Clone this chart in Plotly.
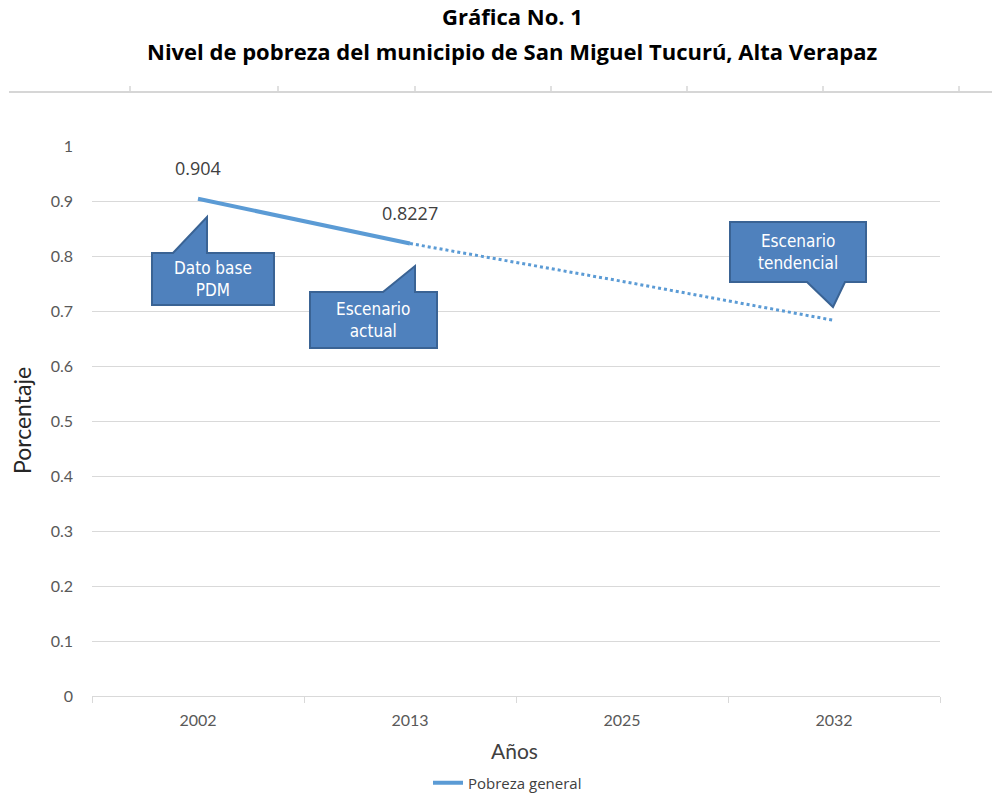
import plotly.graph_objects as go

# ---- data ----
years = ["2002", "2013", "2025", "2032"]
actual = [0.904, 0.8227, None, None]
trend = [None, 0.8227, 0.754, 0.683]
label_years = ["2002", "2013"]
label_values = [0.904, 0.8227]
label_text = ["0.904", "0.8227"]
y_ticks = [0, 0.1, 0.2, 0.3, 0.4, 0.5, 0.6, 0.7, 0.8, 0.9, 1]
y_tick_text = ["0", "0.1", "0.2", "0.3", "0.4", "0.5", "0.6", "0.7", "0.8", "0.9", "1"]

W, H = 992, 812
L, R, T, B = 92, 52, 146, 116
PW, PH = W - L - R, H - T - B

def px(x, y):
    return (x - L) / PW, (H - B - y) / PH

fig = go.Figure()
fig.add_trace(go.Scatter(
    x=years, y=trend, mode="lines", showlegend=False,
    line=dict(color="#5b9bd5", width=3, dash="dot"), hoverinfo="skip"))
fig.add_trace(go.Scatter(
    x=years, y=actual, mode="lines", name="Pobreza general",
    line=dict(color="#5b9bd5", width=4)))

shapes = []
annotations = []
# data labels (category index positions)
for yr, v, t in zip(label_years, label_values, label_text):
    annotations.append(dict(x=years.index(yr), y=v, xref="x", yref="y", text=t, showarrow=False,
                            yshift=31, xanchor="center", yanchor="middle",
                            font=dict(family="Open Sans, sans-serif", size=18, color="#404040")))

# callouts (box + pointer) as polygons in pixel-space converted to paper
callouts = [
    ([(152, 253), (173, 253), (207, 217), (207, 253), (274, 253), (274, 305), (152, 305)],
     "Dato base<br>PDM", (213, 279)),
    ([(310, 292), (383, 292), (415, 266), (415, 292), (437, 292), (437, 348), (310, 348)],
     "Escenario<br>actual", (373, 320)),
    ([(730, 222), (866, 222), (866, 282), (845, 282), (833, 307), (807, 282), (730, 282)],
     "Escenario<br>tendencial", (798, 252)),
]
for pts, txt, (cx, cy) in callouts:
    path = ""
    for i, (x, y) in enumerate(pts):
        xp, yp = px(x, y)
        path += ("M" if i == 0 else "L") + f"{xp:.5f},{yp:.5f} "
    path += "Z"
    shapes.append(dict(type="path", path=path, xref="paper", yref="paper",
                       fillcolor="#4f81bd", line=dict(color="#3a6394", width=2), layer="above"))
    ax, ay = px(cx, cy)
    annotations.append(dict(x=ax, y=ay, xref="paper", yref="paper", text=txt, showarrow=False,
                            font=dict(family="Liberation Sans Narrow, DejaVu Sans Condensed, Liberation Sans, sans-serif",
                                      size=17, color="white"),
                            align="center", xanchor="center", yanchor="middle"))

# top decorative border line with ticks
x0, y0 = px(9, 92)
x1, _ = px(992, 92)
shapes.append(dict(type="line", xref="paper", yref="paper", x0=x0, x1=x1, y0=y0, y1=y0,
                   line=dict(color="#d6d6d6", width=2)))
for tx in [130, 278, 415, 551, 687, 823, 959]:
    a, b = px(tx, 92)
    _, c = px(tx, 86)
    shapes.append(dict(type="line", xref="paper", yref="paper", x0=a, x1=a, y0=b, y1=c,
                       line=dict(color="#d6d6d6", width=1.5)))

# titles
for txt, y in [("Gráfica No. 1", 16), ("Nivel de pobreza del municipio de San Miguel Tucurú, Alta Verapaz", 51)]:
    a, b = px(512, y)
    annotations.append(dict(x=a, y=b, xref="paper", yref="paper", text=f"<b>{txt}</b>",
                            showarrow=False, xanchor="center", yanchor="middle",
                            font=dict(family="Open Sans, sans-serif", size=22, color="#000000")))
# axis titles
a, b = px(514, 750)
annotations.append(dict(x=a, y=b, xref="paper", yref="paper", text="Años", showarrow=False,
                        xanchor="center", yanchor="middle",
                        font=dict(family="Lato, sans-serif", size=21, color="#404040")))
a, b = px(22, 421)
annotations.append(dict(x=a, y=b, xref="paper", yref="paper", text="Porcentaje", showarrow=False,
                        textangle=-90, xanchor="center", yanchor="middle",
                        font=dict(family="Lato, sans-serif", size=23, color="#262626")))

lx, ly = px(428, 783)
fig.update_layout(
    width=W, height=H, margin=dict(l=L, r=R, t=T, b=B),
    plot_bgcolor="white", paper_bgcolor="white",
    shapes=shapes, annotations=annotations,
    showlegend=True,
    legend=dict(orientation="h", x=lx, y=ly, xanchor="left", yanchor="middle",
                font=dict(family="Open Sans, sans-serif", size=15, color="#404040"),
                itemwidth=30, bgcolor="rgba(0,0,0,0)"),
    xaxis=dict(type="category", range=[-0.5, 3.5], tickson="boundaries", ticks="outside",
               ticklen=6, tickcolor="#d9d9d9", showline=True, linecolor="#d9d9d9", linewidth=1,
               showgrid=False, ticklabelstandoff=10,
               tickfont=dict(family="Lato, sans-serif", size=16, color="#595959")),
    yaxis=dict(range=[0, 1], tickvals=y_ticks, ticktext=y_tick_text, showgrid=True,
               gridcolor="#d9d9d9", gridwidth=1, zeroline=False, showline=False,
               ticks="", ticklabelstandoff=18,
               tickfont=dict(family="Lato, sans-serif", size=16, color="#595959")),
)

fig.write_html("out.html", config={"displayModeBar": False},
               post_script="document.body.style.margin='0';document.body.style.overflow='hidden';")
